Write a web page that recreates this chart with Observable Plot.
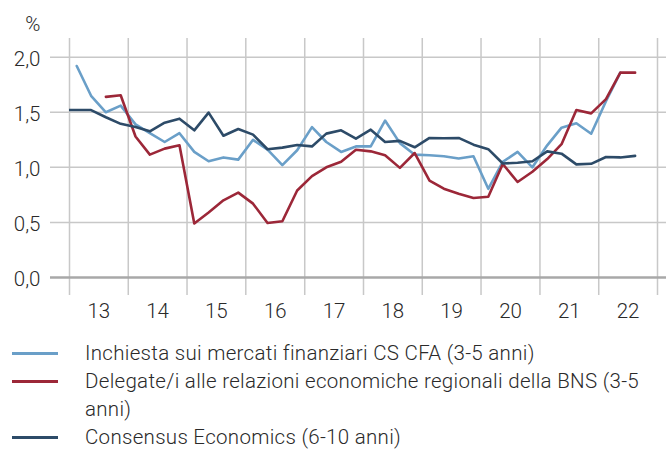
<!DOCTYPE html>
<html>
<head>
<meta charset="utf-8">
<script src="https://cdn.jsdelivr.net/npm/d3@7"></script>
<script src="https://cdn.jsdelivr.net/npm/@observablehq/plot@0.6"></script>
<style>
  html, body { margin: 0; padding: 0; background: #fff; }
  body { width: 666px; height: 450px; overflow: hidden; font-family: Roboto, "Liberation Sans", sans-serif; color: #2a2a2a; }
  #legend { padding-top: 9px; }
  .item { display: flex; align-items: flex-start; font-family: Roboto, sans-serif; font-size: 20.5px; font-weight: 300; letter-spacing: 0.3px; line-height: 28px; white-space: nowrap; }
  .sw { flex: none; width: 46px; height: 3px; margin: 12.5px 27px 0 12px; }
</style>
</head>
<body>
<div id="chart"></div>
<div id="legend"></div>
<script>
// ---- data ----
const years = [2013, 2014, 2015, 2016, 2017, 2018, 2019, 2020, 2021, 2022];
const yTicks = [0, 0.5, 1, 1.5, 2];
const seriesNames = [
  "Inchiesta sui mercati finanziari CS CFA (3-5 anni)",
  "Delegate/i alle relazioni economiche regionali della BNS (3-5\nanni)",
  "Consensus Economics (6-10 anni)"
];
const seriesColors = ["#6a9fc8", "#9c2738", "#2d4b68"];

// quarterly values, 2013 Q1 ... 2022 Q4
const cfa = [
  1.92, 1.65, 1.50, 1.56,
  1.39, 1.31, 1.23, 1.31,
  1.14, 1.055, 1.09, 1.07,
  1.25, 1.16, 1.02, 1.155,
  1.365, 1.23, 1.14, 1.19,
  1.19, 1.425, 1.22, 1.115,
  1.11, 1.10, 1.08, 1.10,
  0.805, 1.05, 1.14, 1.00,
  1.20, 1.36, 1.40, 1.305,
  1.60, 1.86, null, null
];
const bns = [
  null, null, 1.64, 1.655,
  1.28, 1.115, 1.17, 1.20,
  0.49, 0.59, 0.70, 0.77,
  0.67, 0.495, 0.51, 0.79,
  0.92, 1.00, 1.05, 1.16,
  1.145, 1.11, 0.995, 1.13,
  0.88, 0.806, 0.76, 0.722,
  0.733, 1.03, 0.867, 0.96,
  1.075, 1.21, 1.52, 1.49,
  1.62, 1.86, 1.86, null
];
const consensusPrev = 1.52; // 2012 Q4
const consensus = [
  1.52, 1.52, 1.455, 1.395,
  1.367, 1.327, 1.405, 1.442,
  1.336, 1.497, 1.287, 1.348,
  1.297, 1.164, 1.179, 1.203,
  1.19, 1.306, 1.336, 1.26,
  1.342, 1.23, 1.24, 1.182,
  1.267, 1.264, 1.267, 1.206,
  1.165, 1.035, 1.042, 1.055,
  1.145, 1.124, 1.027, 1.032,
  1.094, 1.09, 1.104, null
];

// ---- build table ----
const qDate = (y, q) => new Date(Date.UTC(y, q * 3 + 1, 15));
const quarterDates = years.flatMap(y => [0, 1, 2, 3].map(q => qDate(y, q)));
function rows(values, name, first) {
  const r = values.map((v, i) => ({date: quarterDates[i], value: v, series: name}));
  if (first != null) r.unshift({date: qDate(years[0] - 1, 3), value: first, series: name});
  return r.filter(d => d.value != null);
}
const data = [
  ...rows(cfa, seriesNames[0]),
  ...rows(bns, seriesNames[1]),
  ...rows(consensus, seriesNames[2], consensusPrev)
];

const yearStarts = [...years, years[years.length - 1] + 1].map(y => new Date(Date.UTC(y, 0, 1)));
const midYears = years.map(y => new Date(Date.UTC(y, 6, 2)));
const fmt = d => d.toFixed(1).replace(".", ",");

const chart = Plot.plot({
  width: 666,
  height: 330,
  marginLeft: 69,
  marginRight: 9,
  marginTop: 38,
  marginBottom: 35,
  style: {fontFamily: "Roboto, 'Liberation Sans', sans-serif", color: "#2a2a2a", background: "#fff"},
  x: {type: "utc", domain: [yearStarts[0], yearStarts[yearStarts.length - 1]]},
  y: {domain: [-0.164, 2.17]},
  color: {domain: seriesNames, range: seriesColors},
  marks: [
    Plot.ruleX(yearStarts, {stroke: "#c8c8c8", strokeWidth: 1.5}),
    Plot.ruleY(yTicks.filter(d => d > 0), {stroke: "#c8c8c8", strokeWidth: 1.5, insetLeft: -19, insetRight: -9}),
    Plot.ruleY([0], {stroke: "#a8a8a8", strokeWidth: 2.5, insetLeft: -19, insetRight: -9}),
    Plot.axisY({ticks: yTicks, tickSize: 0, tickPadding: 29, tickFormat: fmt, fontSize: 20.5, fontWeight: 300, label: null, dy: 2}),
    Plot.axisX({ticks: midYears, tickSize: 0, tickPadding: 8, tickFormat: d => String(d.getUTCFullYear()).slice(2), fontSize: 20.5, fontWeight: 300, label: null}),
    Plot.text(["%"], {frameAnchor: "top-left", dx: -29, dy: -22, textAnchor: "end", fontSize: 20.5, fontWeight: 300, fill: "#2a2a2a"}),
    Plot.line(data.filter(d => d.series === seriesNames[0]), {x: "date", y: "value", stroke: "series", strokeWidth: 2.6, clip: true}),
    Plot.line(data.filter(d => d.series === seriesNames[1]), {x: "date", y: "value", stroke: "series", strokeWidth: 2.6, clip: true}),
    Plot.line(data.filter(d => d.series === seriesNames[2]), {x: "date", y: "value", stroke: "series", strokeWidth: 2.6, clip: true})
  ]
});
document.getElementById("chart").appendChild(chart);

// ---- legend ----
const legend = document.getElementById("legend");
seriesNames.forEach((name, i) => {
  const item = document.createElement("div");
  item.className = "item";
  const sw = document.createElement("span");
  sw.className = "sw";
  sw.style.background = seriesColors[i];
  const lbl = document.createElement("span");
  lbl.style.whiteSpace = "pre";
  lbl.textContent = name;
  item.appendChild(sw);
  item.appendChild(lbl);
  legend.appendChild(item);
});
</script>
</body>
</html>
